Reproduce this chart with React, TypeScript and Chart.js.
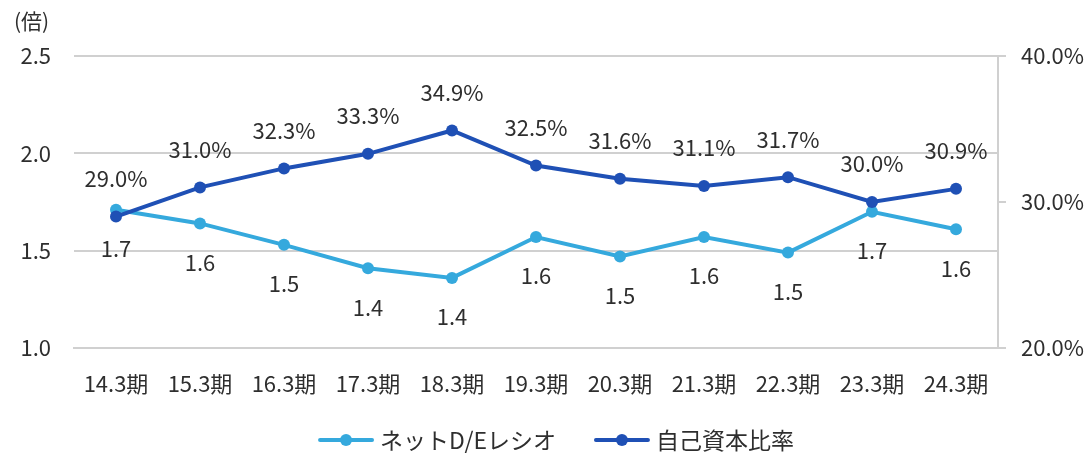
import React, { useEffect, useRef } from "react";
import { Chart, registerables } from "chart.js";

Chart.register(...registerables);

const categories = ["14.3期", "15.3期", "16.3期", "17.3期", "18.3期", "19.3期", "20.3期", "21.3期", "22.3期", "23.3期", "24.3期"];
const netDE = [1.71, 1.64, 1.53, 1.41, 1.36, 1.57, 1.47, 1.57, 1.49, 1.70, 1.61];
const equityRatio = [29.0, 31.0, 32.3, 33.3, 34.9, 32.5, 31.6, 31.1, 31.7, 30.0, 30.9];
const leftTicks = [1.0, 1.5, 2.0, 2.5];
const rightTicks = [20, 30, 40];
const legendOrder = ["ネットD/Eレシオ", "自己資本比率"];

const FONT = "'Noto Sans CJK JP', 'Noto Sans', sans-serif";
const TEXT = "#2e2e2e";
const GRID = "#d0d0d0";
const LIGHT = "#35a9dd";
const DARK = "#1f50b5";

const labelPlugin = {
  id: "valueLabels",
  afterDatasetsDraw(chart: any) {
    const ctx = chart.ctx;
    ctx.save();
    ctx.font = `22px ${FONT}`;
    ctx.fillStyle = TEXT;
    ctx.textAlign = "center";
    ctx.textBaseline = "middle";
    chart.data.datasets.forEach((ds: any, i: number) => {
      const meta = chart.getDatasetMeta(i);
      meta.data.forEach((pt: any, j: number) => {
        const v = ds.data[j] as number;
        if (ds.yAxisID === "yR") {
          ctx.fillText(v.toFixed(1) + "%", pt.x, pt.y - 38);
        } else {
          ctx.fillText(v.toFixed(1), pt.x, pt.y + 39);
        }
      });
    });
    // axis unit
    ctx.font = `21px ${FONT}`;
    ctx.textAlign = "left";
    ctx.fillText("(倍)", 14, 21);

    // legend (line + marker, then text)
    ctx.font = `23px ${FONT}`;
    const items = legendOrder.map((name) => {
      const ds = chart.data.datasets.find((d: any) => d.label === name);
      return { name, color: ds.borderColor as string, w: ctx.measureText(name).width };
    });
    const iconW = 56;
    const gapText = 6;
    const gapItem = 38;
    const total = items.reduce((s, it) => s + iconW + gapText + it.w, 0) + gapItem * (items.length - 1);
    let x = 556 - total / 2;
    const y = 440;
    items.forEach((it) => {
      ctx.strokeStyle = it.color;
      ctx.lineWidth = 4;
      ctx.lineCap = "round";
      ctx.beginPath();
      ctx.moveTo(x + 2, y);
      ctx.lineTo(x + iconW - 2, y);
      ctx.stroke();
      ctx.fillStyle = it.color;
      ctx.beginPath();
      ctx.arc(x + iconW / 2, y, 6, 0, Math.PI * 2);
      ctx.fill();
      ctx.fillStyle = TEXT;
      ctx.textAlign = "left";
      ctx.fillText(it.name, x + iconW + gapText, y);
      x += iconW + gapText + it.w + gapItem;
    });
    ctx.restore();
  },
};

export default function App() {
  const ref = useRef<HTMLCanvasElement>(null);
  useEffect(() => {
    document.body.style.margin = "0";
    const chart = new Chart(ref.current!, {
      type: "line",
      data: {
        labels: categories,
        datasets: [
          {
            label: "自己資本比率",
            data: equityRatio,
            yAxisID: "yR",
            borderColor: DARK,
            backgroundColor: DARK,
            borderWidth: 4,
            pointRadius: 6,
            pointBorderWidth: 0,
            pointStyle: "circle",
            tension: 0,
          },
          {
            label: "ネットD/Eレシオ",
            data: netDE,
            yAxisID: "y",
            borderColor: LIGHT,
            backgroundColor: LIGHT,
            borderWidth: 4,
            pointRadius: 6,
            pointBorderWidth: 0,
            pointStyle: "circle",
            tension: 0,
          },
        ],
      },
      options: {
        animation: false,
        responsive: true,
        maintainAspectRatio: false,
        layout: { padding: { top: 56, left: 0, right: 2, bottom: 45 } },
        plugins: {
          tooltip: { enabled: false },
          legend: { display: false },
        },
        scales: {
          x: {
            offset: true,
            grid: { display: false, drawTicks: false },
            border: { display: true, color: GRID, width: 2 },
            ticks: { color: TEXT, font: { family: FONT, size: 22 }, padding: 22, maxRotation: 0 },
            afterFit: (s: any) => {
              s.height = 60;
            },
          },
          y: {
            position: "left",
            min: leftTicks[0],
            max: leftTicks[leftTicks.length - 1],
            afterBuildTicks: (s: any) => {
              s.ticks = leftTicks.map((v) => ({ value: v }));
            },
            grid: { color: GRID, lineWidth: 2, drawTicks: false },
            border: { display: false },
            ticks: {
              color: TEXT,
              font: { family: FONT, size: 22 },
              padding: 23,
              callback: (v: any) => Number(v).toFixed(1),
            },
            afterFit: (s: any) => {
              s.width = 74;
            },
          },
          yR: {
            position: "right",
            min: rightTicks[0],
            max: rightTicks[rightTicks.length - 1],
            afterBuildTicks: (s: any) => {
              s.ticks = rightTicks.map((v) => ({ value: v }));
            },
            grid: { drawOnChartArea: false, color: GRID, lineWidth: 2, tickLength: 8 },
            border: { display: true, color: GRID, width: 2 },
            ticks: {
              color: TEXT,
              font: { family: FONT, size: 22 },
              padding: 15,
              callback: (v: any) => Number(v).toFixed(1) + "%",
            },
            afterFit: (s: any) => {
              s.width = 89;
            },
          },
        },
      },
      plugins: [labelPlugin],
    });
    return () => chart.destroy();
  }, []);
  return (
    <div style={{ position: "absolute", left: 0, top: 0, width: 1089, height: 453 }}>
      <canvas ref={ref} />
    </div>
  );
}
